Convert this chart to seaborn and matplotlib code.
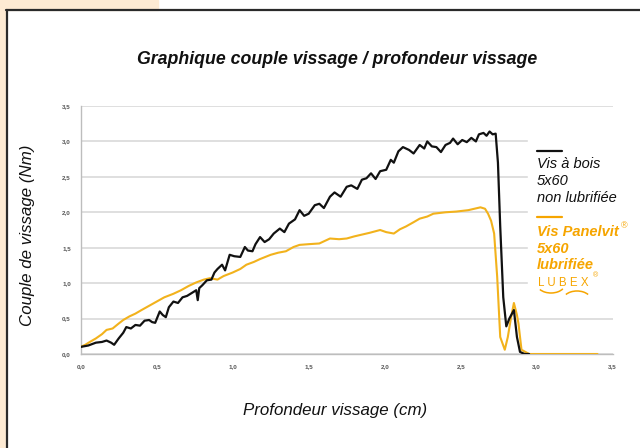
import numpy as np
import pandas as pd
import matplotlib
matplotlib.use('Agg')
import matplotlib.pyplot as plt
from matplotlib.patches import Rectangle, Arc
from matplotlib.lines import Line2D
from matplotlib.ticker import FuncFormatter
import seaborn as sns

# Vis a bois 5x60 non lubrifiee (black)
x_bois = [0.00, 0.05, 0.10, 0.14, 0.17, 0.20, 0.22, 0.25, 0.28, 0.30,
          0.33, 0.36, 0.39, 0.42, 0.45, 0.47, 0.49, 0.52, 0.54, 0.56,
          0.58, 0.61, 0.64, 0.67, 0.70, 0.73, 0.76, 0.77, 0.78, 0.80,
          0.83, 0.86, 0.88, 0.90, 0.93, 0.95, 0.98, 1.01, 1.05, 1.08,
          1.10, 1.13, 1.15, 1.18, 1.21, 1.24, 1.27, 1.31, 1.34, 1.37,
          1.41, 1.44, 1.47, 1.50, 1.54, 1.57, 1.60, 1.64, 1.67, 1.71,
          1.75, 1.78, 1.82, 1.85, 1.88, 1.91, 1.94, 1.97, 2.01, 2.04,
          2.06, 2.09, 2.12, 2.16, 2.19, 2.23, 2.26, 2.28, 2.31, 2.34,
          2.37, 2.40, 2.43, 2.45, 2.48, 2.51, 2.54, 2.57, 2.60, 2.62,
          2.65, 2.67, 2.69, 2.71, 2.73, 2.745, 2.76, 2.78, 2.80, 2.82,
          2.85, 2.87, 2.89, 2.92, 2.95]
y_bois = [0.10, 0.12, 0.16, 0.17, 0.19, 0.16, 0.13, 0.22, 0.30, 0.38,
          0.36, 0.41, 0.40, 0.47, 0.48, 0.45, 0.44, 0.60, 0.55, 0.52,
          0.66, 0.74, 0.72, 0.80, 0.82, 0.86, 0.90, 0.76, 0.93, 0.97,
          1.04, 1.05, 1.15, 1.20, 1.26, 1.18, 1.40, 1.38, 1.37, 1.51,
          1.46, 1.45, 1.55, 1.65, 1.58, 1.62, 1.70, 1.77, 1.72, 1.84,
          1.90, 2.03, 1.95, 1.98, 2.10, 2.12, 2.06, 2.22, 2.28, 2.22,
          2.36, 2.38, 2.33, 2.46, 2.48, 2.55, 2.47, 2.58, 2.60, 2.74,
          2.70, 2.86, 2.92, 2.88, 2.83, 2.95, 2.90, 3.00, 2.93, 2.92,
          2.85, 2.95, 2.98, 3.04, 2.96, 3.02, 2.99, 3.05, 3.00, 3.10,
          3.12, 3.08, 3.14, 3.10, 3.11, 2.70, 1.80, 0.80, 0.39, 0.50,
          0.62, 0.24, 0.03, 0.00, 0.00]

# Vis Panelvit 5x60 lubrifiee LUBEX (yellow)
x_panelvit = [0.00, 0.03, 0.06, 0.10, 0.14, 0.17, 0.21, 0.25, 0.28, 0.32,
              0.36, 0.40, 0.45, 0.50, 0.55, 0.61, 0.66, 0.71, 0.76, 0.81,
              0.85, 0.90, 0.94, 1.00, 1.05, 1.09, 1.14, 1.18, 1.25, 1.30,
              1.35, 1.40, 1.44, 1.50, 1.57, 1.61, 1.64, 1.70, 1.75, 1.80,
              1.84, 1.90, 1.97, 2.01, 2.06, 2.10, 2.14, 2.19, 2.23, 2.28,
              2.32, 2.40, 2.47, 2.55, 2.63, 2.66, 2.68, 2.70, 2.72, 2.74,
              2.76, 2.79, 2.81, 2.83, 2.85, 2.87, 2.88, 2.90, 2.95, 3.10,
              3.40]
y_panelvit = [0.10, 0.13, 0.17, 0.22, 0.28, 0.34, 0.36, 0.43, 0.48, 0.53,
              0.57, 0.62, 0.68, 0.74, 0.80, 0.85, 0.90, 0.96, 1.01, 1.05,
              1.07, 1.05, 1.10, 1.15, 1.20, 1.26, 1.30, 1.34, 1.40, 1.43,
              1.45, 1.51, 1.54, 1.55, 1.56, 1.60, 1.63, 1.62, 1.63, 1.66,
              1.68, 1.71, 1.75, 1.72, 1.70, 1.76, 1.80, 1.86, 1.91, 1.94,
              1.98, 2.00, 2.01, 2.03, 2.07, 2.05, 1.98, 1.88, 1.70, 1.09,
              0.24, 0.06, 0.24, 0.50, 0.72, 0.55, 0.43, 0.06, 0.00, 0.00,
              0.00]

ticks = [0.0, 0.5, 1.0, 1.5, 2.0, 2.5, 3.0, 3.5]

BLACK = '#111111'
YELLOW = '#f2b21c'
ORANGE = '#f6a500'
BEIGE = '#fdead3'

sns.set_style('white')
plt.rcParams['font.family'] = ['Liberation Sans', 'DejaVu Sans']

fig = plt.figure(figsize=(6.4, 4.48), dpi=100)
W, H = 640.0, 448.0

def fx(px):
    return px / W

def fy(py):
    return 1 - py / H

# page decoration: beige corner + dark frame
fig.patches.append(Rectangle((0, fy(10)), fx(158), 10 / H, transform=fig.transFigure,
                             color=BEIGE, zorder=0))
fig.patches.append(Rectangle((0, 0), fx(5.5), 1, transform=fig.transFigure,
                             color=BEIGE, zorder=0))
fig.add_artist(Line2D([fx(6), 1], [fy(10.5), fy(10.5)], transform=fig.transFigure,
                      color='#2a2a2a', lw=1.6))
fig.add_artist(Line2D([fx(6.5), fx(6.5)], [0, fy(10)], transform=fig.transFigure,
                      color='#2a2a2a', lw=1.6))

ax = fig.add_axes([fx(80.7), fy(354), (612.7 - 80.7) / W, (354 - 106) / H])

df_bois = pd.DataFrame({'x': x_bois, 'y': y_bois})
df_pan = pd.DataFrame({'x': x_panelvit, 'y': y_panelvit})
sns.lineplot(data=df_pan, x='x', y='y', sort=False, estimator=None,
             color=YELLOW, lw=1.5, ax=ax, zorder=3)
sns.lineplot(data=df_bois, x='x', y='y', sort=False, estimator=None,
             color=BLACK, lw=1.6, ax=ax, zorder=4)

ax.set_xlim(0, 3.5)
ax.set_ylim(0, 3.5)
ax.set_xticks(ticks)
ax.set_yticks(ticks)
fmt = FuncFormatter(lambda v, p: f'{v:.1f}'.replace('.', ','))
ax.xaxis.set_major_formatter(fmt)
ax.yaxis.set_major_formatter(fmt)
ax.tick_params(axis='both', labelsize=4.5, colors='#bdbdbd', labelcolor='#555555',
               length=3, width=0.8, direction='out', pad=4)
for lab in ax.get_xticklabels() + ax.get_yticklabels():
    lab.set_fontweight('bold')
ax.grid(axis='y', color='#d6d6d6', lw=1.1)
ax.grid(axis='x', visible=False)
for s in ['top', 'right']:
    ax.spines[s].set_visible(False)
for s in ['left', 'bottom']:
    ax.spines[s].set_color('#bdbdbd')
    ax.spines[s].set_linewidth(1.0)

ax.set_xlabel('Profondeur vissage (cm)', fontsize=12.2, style='italic', color='#111111')
ax.set_ylabel('Couple de vissage (Nm)', fontsize=12.2, style='italic', color='#111111')
ax.xaxis.set_label_coords(0.478, -0.198)
ax.yaxis.set_label_coords(-0.085, 0.48)

fig.text(fx(337), fy(60), 'Graphique couple vissage / profondeur vissage',
         ha='center', va='center', fontsize=12.8, fontweight='bold', style='italic',
         color='#111111')

# legend area
fig.patches.append(Rectangle((fx(528), fy(296)), fx(100), (296 - 138) / H,
                             transform=fig.transFigure, color='white', zorder=5))
fig.add_artist(Line2D([fx(537), fx(562)], [fy(151), fy(151)], transform=fig.transFigure,
                      color=BLACK, lw=1.6, zorder=6))
for i, t in enumerate(['Vis à bois', '5x60', 'non lubrifiée']):
    fig.text(fx(537), fy(164 + 17 * i), t, ha='left', va='center', fontsize=10.5,
             style='italic', color=BLACK, zorder=6)
fig.add_artist(Line2D([fx(537), fx(562)], [fy(217.5), fy(217.5)], transform=fig.transFigure,
                      color=ORANGE, lw=1.6, zorder=6))
for i, t in enumerate(['Vis Panelvit', '5x60', 'lubrifiée']):
    fig.text(fx(537), fy(232 + 16.7 * i), t, ha='left', va='center', fontsize=10.5,
             style='italic', fontweight='bold', color=ORANGE, zorder=6)
fig.text(fx(621), fy(226), '®', ha='left', va='center', fontsize=6.5, color=ORANGE, zorder=6)
fig.text(fx(538), fy(283), 'L U B E X', ha='left', va='center', fontsize=8.3,
         color=ORANGE, zorder=6)
fig.text(fx(593), fy(276), '®', ha='left', va='center', fontsize=5, color=ORANGE, zorder=6)
fig.add_artist(Arc((fx(551), fy(284)), fx(28), 18 / H, theta1=215, theta2=330,
                   transform=fig.transFigure, color=ORANGE, lw=1.1, zorder=6))
fig.add_artist(Arc((fx(577), fy(300)), fx(28), 18 / H, theta1=35, theta2=145,
                   transform=fig.transFigure, color=ORANGE, lw=1.1, zorder=6))

fig.savefig('out.png', dpi=100, facecolor='white')
